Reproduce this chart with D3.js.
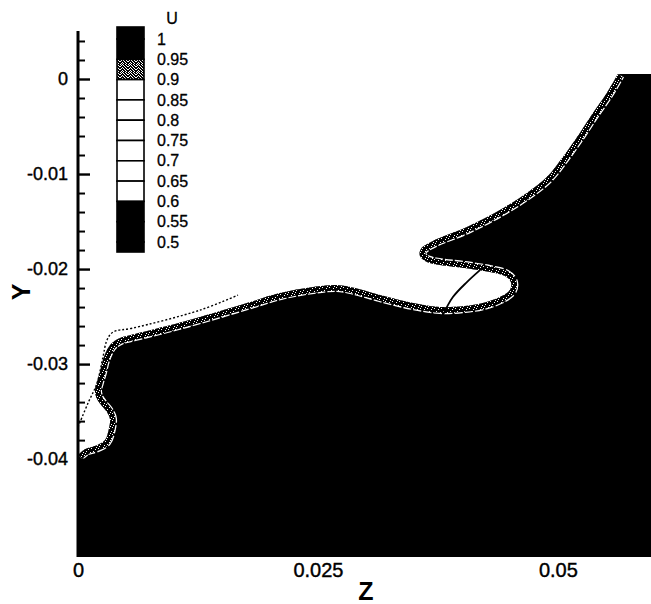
<!DOCTYPE html>
<html><head><meta charset="utf-8">
<script src="https://cdn.jsdelivr.net/npm/d3@7"></script>
<style>
html,body{margin:0;padding:0;background:#fff;}
svg{display:block;font-family:"Liberation Sans",Arial,Helvetica,sans-serif;}
</style>
</head><body>
<svg id="c" width="651" height="604"></svg>
<script>
// ---- data ----
const boundaryZ = [0.0, 0.00073, 0.00198, 0.00281, 0.00323, 0.00333, 0.00302, 0.00250, 0.00198, 0.00177,
  0.00198, 0.00229, 0.00260, 0.00302, 0.00354, 0.00438, 0.00594, 0.00927, 0.01271, 0.01760,
  0.02104, 0.02448, 0.02698, 0.02885, 0.03146, 0.03490, 0.03771, 0.04031, 0.04219, 0.04396,
  0.04500, 0.04510, 0.04448, 0.04292, 0.04031, 0.03771, 0.03635, 0.03563, 0.03573, 0.03698,
  0.04052, 0.04396, 0.04677, 0.04885, 0.05052, 0.05229, 0.05365, 0.05510, 0.05625];
const boundaryY = [-0.03958, -0.03895, -0.03853, -0.03800, -0.03674, -0.03579, -0.03505, -0.03442, -0.03368, -0.03284,
  -0.03189, -0.03084, -0.02958, -0.02853, -0.02779, -0.02726, -0.02684, -0.02600, -0.02505, -0.02358,
  -0.02253, -0.02189, -0.02168, -0.02200, -0.02274, -0.02358, -0.02400, -0.02389, -0.02358, -0.02295,
  -0.02221, -0.02137, -0.02074, -0.02032, -0.01989, -0.01958, -0.01926, -0.01863, -0.01789, -0.01705,
  -0.01558, -0.01379, -0.01200, -0.01032, -0.00821, -0.00568, -0.00358, -0.00147, 0.00053];
const plateauY = 0.00053;
const dottedZ = [0.0, 0.00104, 0.00198, 0.00260, 0.00302, 0.00365, 0.00573, 0.01271, 0.01667];
const dottedY = [-0.03663, -0.03411, -0.03200, -0.02926, -0.02747, -0.02663, -0.02621, -0.02432, -0.02274];
const arcZ = [0.03802, 0.03906, 0.04052, 0.04188];
const arcY = [-0.02484, -0.02295, -0.02137, -0.02011];

const zDomain = [0, 0.0597];
const yDomain = [-0.0503, 0.00505];
const yTicks = [0, -0.01, -0.02, -0.03, -0.04];
const yTickLabels = ["0", "-0.01", "-0.02", "-0.03", "-0.04"];
const yMinorTicks = [0.004, 0.002, -0.002, -0.004, -0.006, -0.008, -0.012, -0.014, -0.016, -0.018,
  -0.022, -0.024, -0.026, -0.028, -0.032, -0.034, -0.036, -0.038, -0.042, -0.044, -0.046, -0.048];
const xTicks = [0, 0.025, 0.05];
const xTickLabels = ["0", "0.025", "0.05"];
const legendLevels = [1, 0.95, 0.9, 0.85, 0.8, 0.75, 0.7, 0.65, 0.6, 0.55, 0.5];
const legendLabels = ["1", "0.95", "0.9", "0.85", "0.8", "0.75", "0.7", "0.65", "0.6", "0.55", "0.5"];
// fill of each band from top (>1) to bottom (<0.5)
const bandFills = ["black", "black", "speckle", "white", "white", "white", "white", "white", "white", "black", "black", "black"];
const legendTitle = "U";
const xTitle = "Z";
const yTitle = "Y";

// ---- drawing ----
const svg = d3.select("#c");
const x = d3.scaleLinear().domain(zDomain).range([78, 651]);
const y = d3.scaleLinear().domain(yDomain).range([557, 31]);
const defs = svg.append("defs");

function makePattern(id, size, whites) {
  const p = defs.append("pattern").attr("id", id)
    .attr("patternUnits", "userSpaceOnUse").attr("width", size).attr("height", size);
  p.append("rect").attr("width", size).attr("height", size).attr("fill", "#000");
  p.selectAll("rect.w").data(whites).join("rect").attr("class", "w")
    .attr("x", d => d[0]).attr("y", d => d[1]).attr("width", 1).attr("height", 1).attr("fill", "#fff");
}
makePattern("speck", 7, [[0,0],[4,1],[2,3],[6,4],[1,5],[5,6]]);
makePattern("speck2", 8, [[0,0],[2,0],[5,0],[1,1],[3,1],[6,1],[7,2],[0,2],[4,2],[2,3],[5,3],
  [1,4],[3,4],[6,4],[0,5],[4,5],[7,5],[2,6],[5,6],[1,7],[3,7],[6,7]]);

const pts = boundaryZ.map((z, i) => [x(z), y(boundaryY[i])]);
const line = d3.line().curve(d3.curveCatmullRom.alpha(0.5));
const openPath = line(pts);
const regionPath = openPath + `L${x(zDomain[1])},${y(plateauY)}L${x(zDomain[1])},${y(yDomain[0])}L${x(0)},${y(yDomain[0])}Z`;

defs.append("clipPath").attr("id", "regionClip").append("path").attr("d", regionPath);

svg.append("path").attr("d", regionPath).attr("fill", "#000");
const band = svg.append("g").attr("clip-path", "url(#regionClip)");
band.append("path").attr("d", openPath).attr("fill", "none")
  .attr("stroke", "#fff").attr("stroke-width", 14).attr("stroke-dasharray", "8,2");
band.append("path").attr("d", openPath).attr("fill", "none")
  .attr("stroke", "url(#speck)").attr("stroke-width", 11.5);

// thin lines
const dline = d3.line().curve(d3.curveCatmullRom.alpha(0.5));
svg.append("path").attr("d", dline(dottedZ.map((z, i) => [x(z), y(dottedY[i])])))
  .attr("fill", "none").attr("stroke", "#000").attr("stroke-width", 1.4).attr("stroke-dasharray", "2,2");
svg.append("path").attr("d", dline(arcZ.map((z, i) => [x(z), y(arcY[i])])))
  .attr("fill", "none").attr("stroke", "#000").attr("stroke-width", 1.8);

// y axis
const axisX = x(0);
svg.append("line").attr("x1", axisX).attr("x2", axisX).attr("y1", y(yDomain[1])).attr("y2", y(yDomain[0]))
  .attr("stroke", "#000").attr("stroke-width", 3);
const gMaj = svg.append("g").attr("transform", `translate(${axisX},0)`)
  .call(d3.axisRight(y).tickValues(yTicks).tickSize(12).tickSizeOuter(0).tickFormat(""));
gMaj.select(".domain").remove();
gMaj.selectAll(".tick line").attr("stroke-width", 2.4);
const gMin = svg.append("g").attr("transform", `translate(${axisX},0)`)
  .call(d3.axisRight(y).tickValues(yMinorTicks).tickSize(7).tickSizeOuter(0).tickFormat(""));
gMin.select(".domain").remove();
gMin.selectAll(".tick line").attr("stroke-width", 2);
const gLab = svg.append("g").attr("transform", `translate(${axisX},0)`)
  .call(d3.axisLeft(y).tickValues(yTicks).tickSize(0).tickPadding(10)
    .tickFormat((d, i) => yTickLabels[i]));
gLab.select(".domain").remove();
gLab.selectAll("text").attr("font-size", 18).attr("fill", "#000")
  .attr("stroke", "#000").attr("stroke-width", 0.4)
  .attr("font-family", '"Liberation Sans",Arial,sans-serif');

// x axis labels
const gX = svg.append("g").attr("transform", `translate(0,${y(yDomain[0])})`)
  .call(d3.axisBottom(x).tickValues(xTicks).tickSize(0).tickPadding(6)
    .tickFormat((d, i) => xTickLabels[i]));
gX.select(".domain").remove();
gX.selectAll("text").attr("font-size", 20).attr("fill", "#000")
  .attr("stroke", "#000").attr("stroke-width", 0.4)
  .attr("font-family", '"Liberation Sans",Arial,sans-serif');

// axis titles
svg.append("text").attr("x", 366).attr("y", 600).attr("text-anchor", "middle")
  .attr("font-size", 25).attr("font-weight", "bold").text(xTitle);
svg.append("text").attr("transform", "translate(30,292) rotate(-90)").attr("text-anchor", "middle")
  .attr("font-size", 25).attr("font-weight", "bold").text(yTitle);

// legend
const ly = d3.scaleLinear().domain([0.5, 1]).range([242, 39]);
const lx0 = 117, lx1 = 144, lTop = 27, lBot = 252;
const bandEdges = [lTop, ...legendLevels.map(v => ly(v)), lBot];
const lg = svg.append("g");
lg.selectAll("rect.band").data(bandFills).join("rect").attr("class", "band")
  .attr("x", lx0).attr("width", lx1 - lx0)
  .attr("y", (d, i) => bandEdges[i]).attr("height", (d, i) => bandEdges[i + 1] - bandEdges[i])
  .attr("fill", d => d === "speckle" ? "url(#speck2)" : d)
  .attr("stroke", "#000").attr("stroke-width", 1.6);
lg.selectAll("text.lab").data(legendLabels).join("text").attr("class", "lab")
  .attr("x", 157).attr("y", (d, i) => ly(legendLevels[i])).attr("dy", "0.35em")
  .attr("font-size", 16).attr("stroke", "#000").attr("stroke-width", 0.3).text(d => d);
lg.append("text").attr("x", 172).attr("y", 18).attr("dy", "0.35em").attr("text-anchor", "middle")
  .attr("font-size", 16).attr("stroke", "#000").attr("stroke-width", 0.3).text(legendTitle);
</script>
</body></html>
